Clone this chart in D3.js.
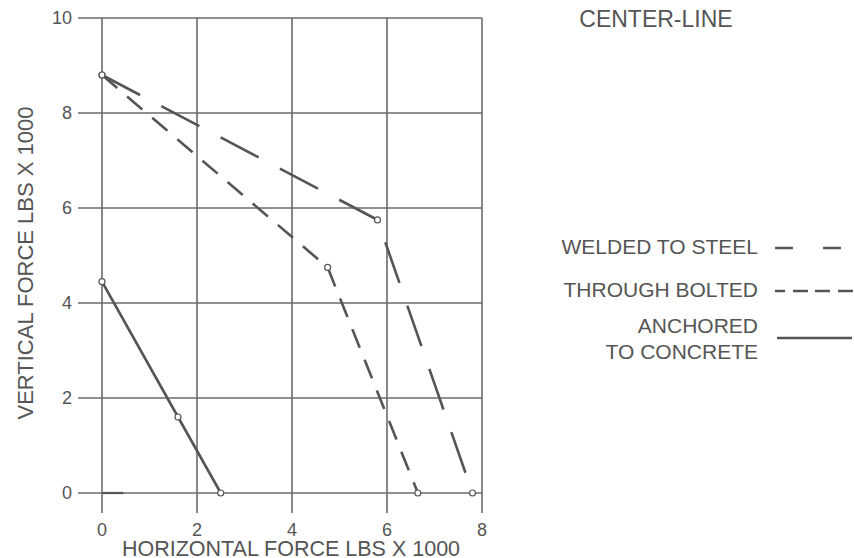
<!DOCTYPE html>
<html>
<head>
<meta charset="utf-8">
<script src="https://cdn.jsdelivr.net/npm/d3@7"></script>
<style>
  body { margin: 0; background: #fff; }
  text { font-family: "Liberation Sans", Arial, sans-serif; fill: #555; }
</style>
</head>
<body>
<div id="chart"></div>
<script>
// chart values
var xTicks = [0, 2, 4, 6, 8];
var yTicks = [0, 2, 4, 6, 8, 10];
var welded = [[0, 8.8], [5.8, 5.75], [7.8, 0]];
var bolted = [[0, 8.8], [4.75, 4.75], [6.65, 0]];
var anchored = [[0, 4.45], [1.6, 1.6], [2.5, 0]];
var stub = [[0, 0], [0.45, 0]];
var legendNames = ["WELDED TO STEEL", "THROUGH BOLTED", ["ANCHORED", "TO CONCRETE"]];

var W = 854, H = 558;
var x = d3.scaleLinear().domain([0, 8]).range([102, 482]);
var y = d3.scaleLinear().domain([0, 10]).range([493, 18]);

var svg = d3.select("#chart").append("svg")
    .attr("width", W)
    .attr("height", H);

var ink = "#555";
var gridInk = "#6b6b6b";

// grid
svg.append("g").selectAll("line").data(yTicks).enter().append("line")
    .attr("x1", x(0) - 24).attr("x2", x(8))
    .attr("y1", d => y(d)).attr("y2", d => y(d))
    .attr("stroke", gridInk).attr("stroke-width", 1.6);

svg.append("g").selectAll("line").data(xTicks).enter().append("line")
    .attr("x1", d => x(d)).attr("x2", d => x(d))
    .attr("y1", y(10)).attr("y2", y(0) + 20)
    .attr("stroke", gridInk).attr("stroke-width", 1.6);

// tick labels
svg.append("g").selectAll("text").data(yTicks).enter().append("text")
    .attr("x", 72).attr("y", d => y(d))
    .attr("dy", "0.35em")
    .attr("text-anchor", "end")
    .style("font-size", "18px")
    .text(d => d);

svg.append("g").selectAll("text").data(xTicks).enter().append("text")
    .attr("x", d => x(d)).attr("y", 530)
    .attr("dy", "0.35em")
    .attr("text-anchor", "middle")
    .style("font-size", "18px")
    .text(d => d);

// axis titles
svg.append("text")
    .attr("x", 291).attr("y", 556)
    .attr("text-anchor", "middle")
    .style("font-size", "21.5px")
    .text("HORIZONTAL FORCE LBS X 1000");

svg.append("text")
    .attr("transform", "translate(33,263) rotate(-90)")
    .attr("text-anchor", "middle")
    .style("font-size", "22px")
    .text("VERTICAL FORCE LBS X 1000");

// lines
var line = d3.line().x(d => x(d[0])).y(d => y(d[1]));

function drawSeries(data, dash) {
    svg.append("path")
        .datum(data)
        .attr("d", line)
        .attr("fill", "none")
        .attr("stroke", ink)
        .attr("stroke-width", 2.6)
        .attr("stroke-dasharray", dash);
    svg.append("g").selectAll("circle").data(data).enter().append("circle")
        .attr("cx", d => x(d[0])).attr("cy", d => y(d[1]))
        .attr("r", 3)
        .attr("fill", "#fff")
        .attr("stroke", ink)
        .attr("stroke-width", 1.2);
}

drawSeries(welded, "43,24");
drawSeries(bolted, "20,13");
drawSeries(anchored, null);

svg.append("path")
    .datum(stub)
    .attr("d", line)
    .attr("fill", "none")
    .attr("stroke", ink)
    .attr("stroke-width", 2.2);

// legend
svg.append("text")
    .attr("x", 656).attr("y", 19)
    .attr("dy", "0.35em")
    .attr("text-anchor", "middle")
    .style("font-size", "23px")
    .text("CENTER-LINE");

var legendY = [247, 290];
svg.append("text").attr("x", 758).attr("y", legendY[0]).attr("dy", "0.35em")
    .attr("text-anchor", "end").style("font-size", "21px").text(legendNames[0]);
svg.append("text").attr("x", 758).attr("y", legendY[1]).attr("dy", "0.35em")
    .attr("text-anchor", "end").style("font-size", "21px").text(legendNames[1]);
svg.append("text").attr("x", 758).attr("y", 326).attr("dy", "0.35em")
    .attr("text-anchor", "end").style("font-size", "21px").text(legendNames[2][0]);
svg.append("text").attr("x", 758).attr("y", 352).attr("dy", "0.35em")
    .attr("text-anchor", "end").style("font-size", "21px").text(legendNames[2][1]);

svg.append("line").attr("x1", 775).attr("x2", 854)
    .attr("y1", legendY[0] + 1).attr("y2", legendY[0] + 1)
    .attr("stroke", ink).attr("stroke-width", 2.4)
    .attr("stroke-dasharray", "18,30");
svg.append("line").attr("x1", 775).attr("x2", 854)
    .attr("y1", legendY[1] + 1).attr("y2", legendY[1] + 1)
    .attr("stroke", ink).attr("stroke-width", 2.4)
    .attr("stroke-dasharray", "10,8,15,7,15,8,15");
svg.append("line").attr("x1", 777).attr("x2", 852)
    .attr("y1", 338).attr("y2", 338)
    .attr("stroke", ink).attr("stroke-width", 2.4);
</script>
</body>
</html>
